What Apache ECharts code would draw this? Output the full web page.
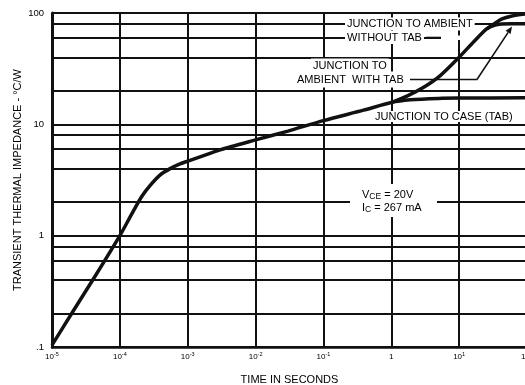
<!DOCTYPE html>
<html>
<head>
<meta charset="utf-8">
<script src="https://cdn.jsdelivr.net/npm/echarts@6/dist/echarts.min.js"></script>
<style>
  html, body { margin: 0; padding: 0; background: #fff; }
  #chart { width: 525px; height: 385px; }
</style>
</head>
<body>
<div id="chart"></div>
<script>
const FONT = '"Liberation Sans", Arial, Helvetica, sans-serif';
const INK = '#111';

// Junction to case (TAB): time in seconds, impedance in °C/W
const caseTime = [1e-5, 2e-5, 4.5e-5, 1e-4, 1.5e-4, 2.1e-4, 2.8e-4, 3.9e-4, 5.5e-4, 7.7e-4,
                  1.08e-3, 1.52e-3, 3e-3, 1e-2, 3e-2, 0.1, 0.39, 1.0, 1.9, 5, 10, 100];
const caseZ    = [0.104, 0.205, 0.45, 1.0, 1.57, 2.25, 2.83, 3.5, 4.0, 4.42,
                  4.74, 5.1, 5.9, 7.25, 8.7, 10.8, 13.4, 15.7, 16.6, 17.1, 17.2, 17.3];

// Junction to ambient with tab (branches off the case curve near 1 s)
const withTabTime = [1.0, 1.7, 3.0, 5.27, 10, 16.4, 25.7, 33, 42, 60, 100];
const withTabZ    = [15.7, 17.9, 21.5, 27.4, 40, 55.2, 72.3, 77.5, 79.5, 80, 80];

// Junction to ambient without tab (branches off the with-tab curve)
const withoutTabTime = [25.7, 33, 42, 60, 100];
const withoutTabZ    = [72.3, 80, 88, 94, 98.5];

// Axis ranges, tick labels and intermediate grid levels
const xRange = [1e-5, 100];
const yRange = [0.1, 100];
const xTickLabels = [['10', '-5'], ['10', '-4'], ['10', '-3'], ['10', '-2'], ['10', '-1'], ['1', ''], ['10', '1'], ['10', '2']];
const yTickLabels = ['.1', '1', '10', '100'];
const yMinorGrid = [0.2, 0.4, 0.6, 0.8, 2, 4, 6, 8, 20, 40, 60, 80];

const pairs = (xs, ys) => xs.map((x, i) => [x, ys[i]]);

const chart = echarts.init(document.getElementById('chart'), null, { renderer: 'canvas' });

const curve = (name, data) => ({
  name, type: 'line', data, smooth: 0.25,
  showSymbol: false, symbol: 'none',
  lineStyle: { color: INK, width: 3.5 }, z: 10, silent: true, animation: false
});

// Leader arrow geometry (annotation)
const tip = [512, 26.5], elbow = [477, 79.5];
const ang = Math.atan2(tip[1] - elbow[1], tip[0] - elbow[0]);
const aL = 7, aW = 3;
const base = [tip[0] - aL * Math.cos(ang), tip[1] - aL * Math.sin(ang)];
const arrowHead = [
  tip,
  [base[0] + aW * Math.sin(ang), base[1] - aW * Math.cos(ang)],
  [base[0] - aW * Math.sin(ang), base[1] + aW * Math.cos(ang)]
];

const label = (text, x, y, extra) => ({
  type: 'text', x, y, z: 20, silent: true,
  style: Object.assign({
    text, fontFamily: FONT, fontSize: 11, fill: '#000',
    align: 'left', verticalAlign: 'middle', lineHeight: 11,
    backgroundColor: '#fff', padding: [1, 2]
  }, extra || {})
});

const condRich = {
  m: { fontFamily: FONT, fontSize: 11, lineHeight: 13, color: '#000' },
  s: { fontFamily: FONT, fontSize: 8.5, lineHeight: 9, color: '#000', verticalAlign: 'bottom' }
};

chart.setOption({
  backgroundColor: '#fff',
  animation: false,
  grid: { left: 52, top: 13, right: -2, bottom: 38, containLabel: false, outerBoundsMode: 'none' },
  xAxis: {
    type: 'log', logBase: 10, min: xRange[0], max: xRange[1], splitNumber: 7,
    name: 'TIME IN SECONDS', nameLocation: 'middle', nameGap: 27, nameMoveOverlap: false,
    nameTextStyle: { fontFamily: FONT, fontSize: 11, color: '#000' },
    axisLine: { show: true, lineStyle: { color: INK, width: 2.5 } },
    axisTick: { show: false },
    minorTick: { show: false },
    splitLine: { show: true, lineStyle: { color: INK, width: 2 } },
    axisLabel: {
      margin: 4, hideOverlap: false,
      formatter: (v) => {
        const [b, e] = xTickLabels[Math.round(Math.log10(v)) + 5];
        return e ? `{b|${b}}{e|${e}}` : `{b|${b}}`;
      },
      rich: {
        b: { fontFamily: FONT, fontSize: 8, lineHeight: 11, color: '#000' },
        e: { fontFamily: FONT, fontSize: 5.5, lineHeight: 7, color: '#000', verticalAlign: 'top' }
      }
    }
  },
  yAxis: {
    type: 'log', logBase: 10, min: yRange[0], max: yRange[1], splitNumber: 3,
    name: 'TRANSIENT THERMAL IMPEDANCE - °C/W', nameLocation: 'middle', nameGap: 29, nameMoveOverlap: false,
    nameTextStyle: { fontFamily: FONT, fontSize: 11, color: '#000' },
    axisLine: { show: true, lineStyle: { color: INK, width: 3 } },
    axisTick: { show: false },
    minorTick: { show: false },
    splitLine: { show: true, lineStyle: { color: INK, width: 2 } },
    axisLabel: {
      margin: 8, fontFamily: FONT, fontSize: 9.5, color: '#000',
      formatter: (v) => yTickLabels[Math.round(Math.log10(v)) + 1]
    }
  },
  series: [
    {
      name: 'grid-levels', type: 'line', data: [], silent: true, z: 1,
      markLine: {
        silent: true, symbol: 'none', z: 1, animation: false,
        label: { show: false },
        lineStyle: { color: INK, width: 2, type: 'solid' },
        data: yMinorGrid.map(v => ({ yAxis: v }))
      }
    },
    curve('Junction to case (TAB)', pairs(caseTime, caseZ)),
    curve('Junction to ambient with tab', pairs(withTabTime, withTabZ)),
    curve('Junction to ambient without tab', pairs(withoutTabTime, withoutTabZ))
  ],
  graphic: [
    // gap in the 60 level to the right of the "WITHOUT TAB" leader
    { type: 'rect', shape: { x: 441, y: 35.5, width: 90, height: 4.5 }, style: { fill: '#fff' }, z: 3, silent: true },
    // blank field behind the test conditions
    { type: 'rect', shape: { x: 350, y: 184, width: 87, height: 33 }, style: { fill: '#fff' }, z: 19, silent: true },

    label('JUNCTION TO AMBIENT', 345, 24),
    label('WITHOUT TAB', 345, 37.5),
    { type: 'line', shape: { x1: 426, y1: 37.7, x2: 441, y2: 37.7 }, style: { stroke: INK, lineWidth: 2 }, z: 21, silent: true },

    label('JUNCTION TO', 311, 65.5, { padding: [2, 2, 1, 2] }),
    label('AMBIENT  WITH TAB', 295, 79.5, { padding: [1, 2, 4, 2] }),
    { type: 'polyline', shape: { points: [[410, 79.5], elbow, base] }, style: { stroke: INK, lineWidth: 1.6, fill: null }, z: 21, silent: true },
    { type: 'polygon', shape: { points: arrowHead }, style: { fill: INK }, z: 21, silent: true },

    label('JUNCTION TO CASE (TAB)', 373, 116.5, { padding: [0, 2] }),

    {
      type: 'text', x: 362, y: 195, z: 22, silent: true,
      style: { text: '{m|V}{s|CE}{m| = 20V}', align: 'left', verticalAlign: 'middle', fill: '#000', rich: condRich }
    },
    {
      type: 'text', x: 362, y: 207.5, z: 22, silent: true,
      style: { text: '{m|I}{s|C}{m| = 267 mA}', align: 'left', verticalAlign: 'middle', fill: '#000', rich: condRich }
    }
  ]
});
</script>
</body>
</html>
